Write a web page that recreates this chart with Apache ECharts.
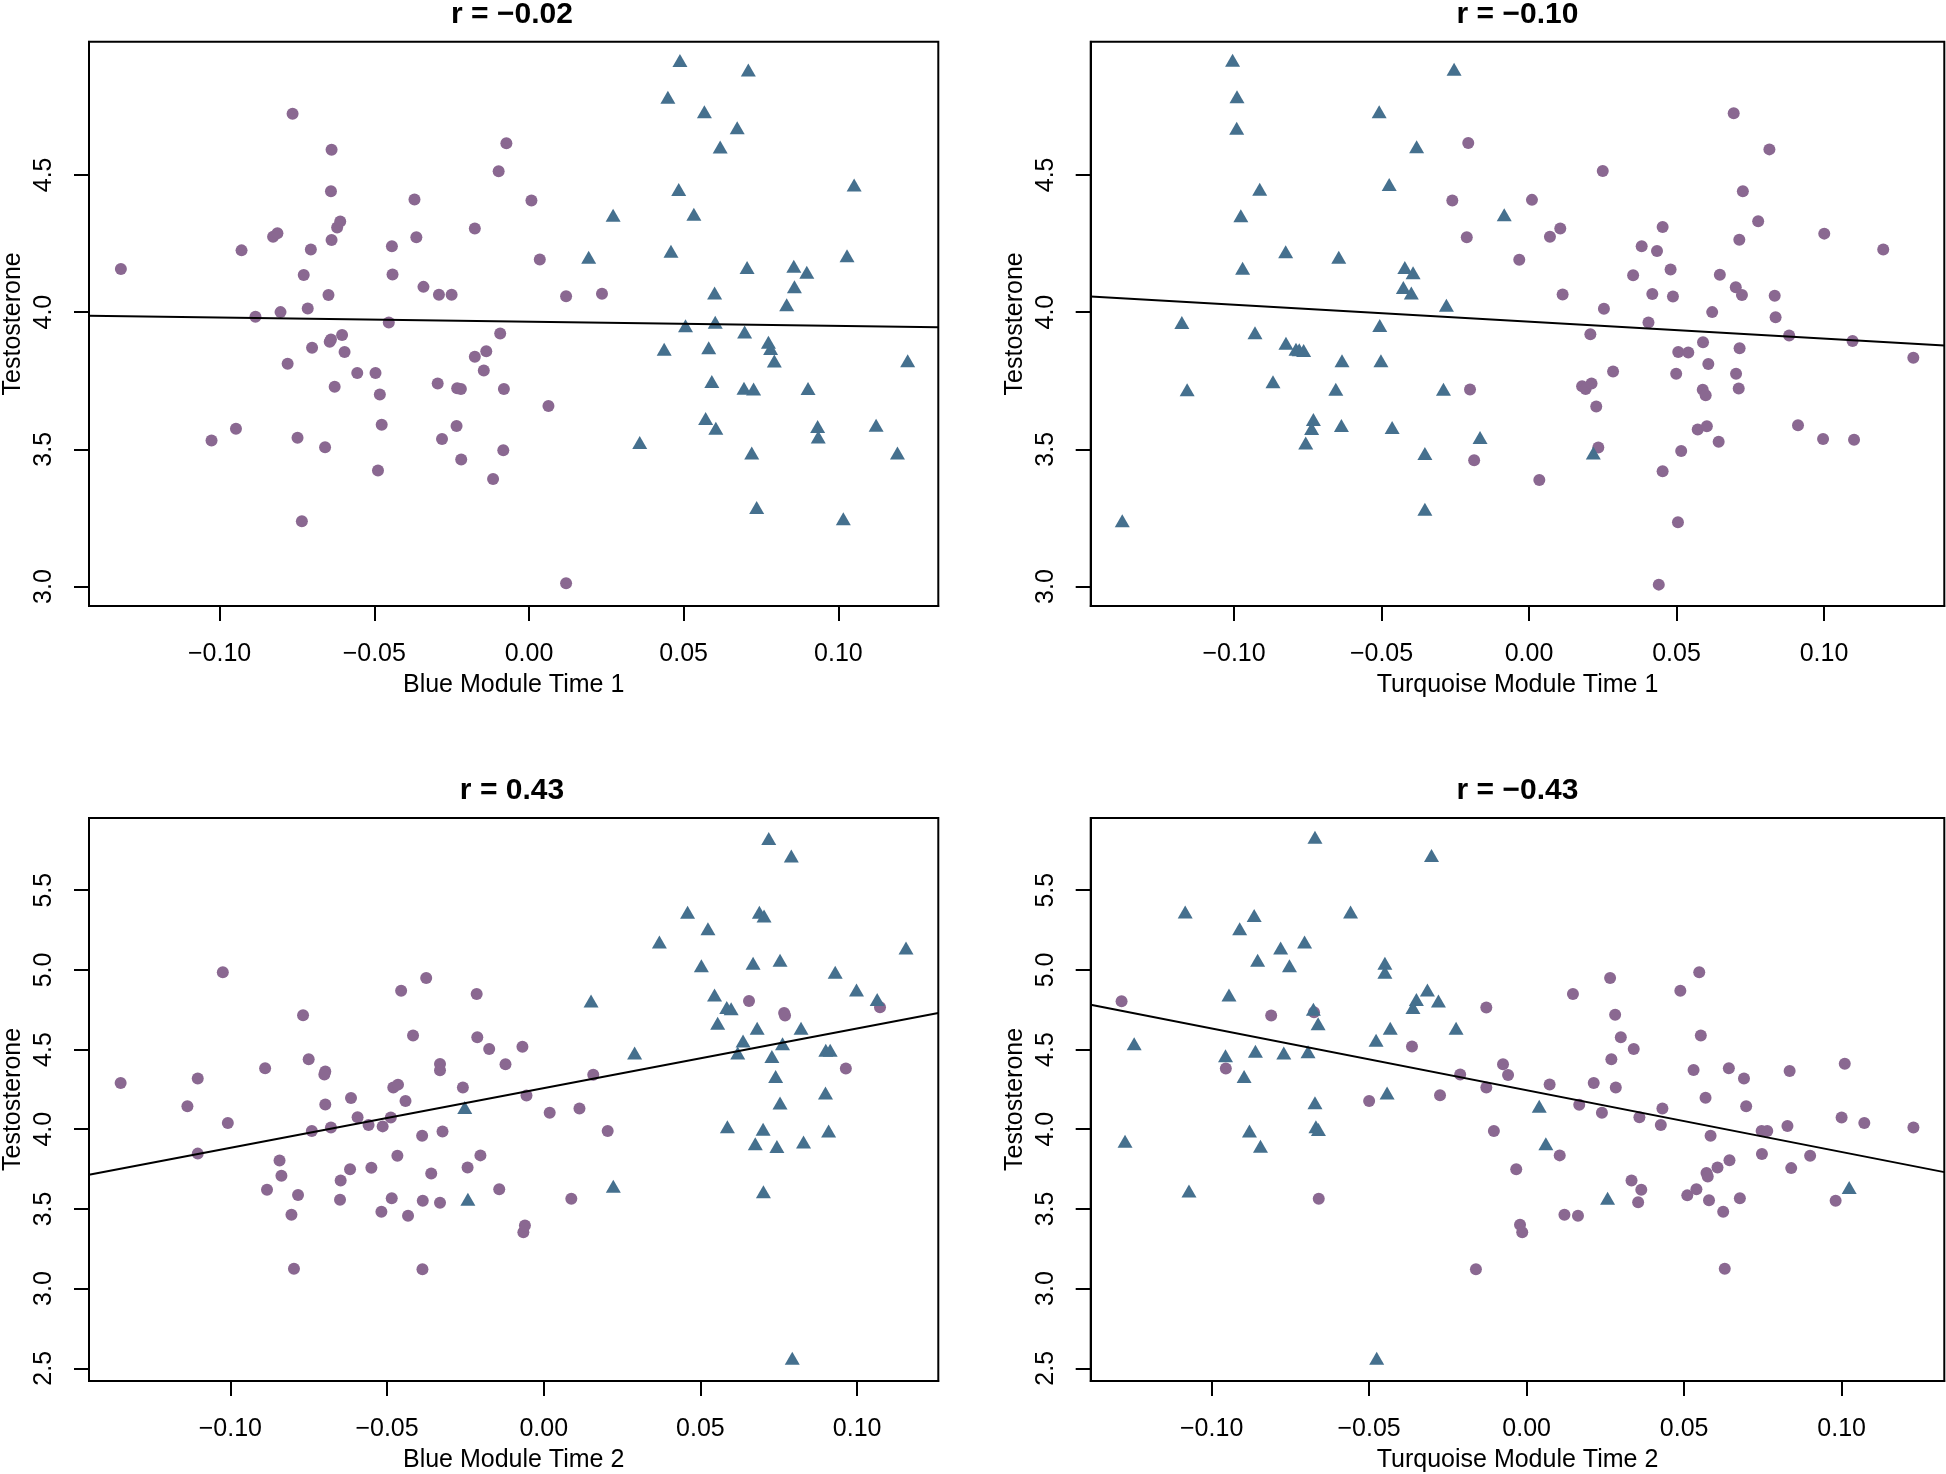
<!DOCTYPE html>
<html lang="en">
<head>
<meta charset="UTF-8">
<title>Testosterone vs module eigengenes</title>
<script src="https://cdn.jsdelivr.net/npm/echarts@6/dist/echarts.min.js"></script>
<style>
	html, body { margin: 0; padding: 0; background: #fff; }
	#chart { width: 1946px; height: 1474px; }
</style>
</head>
<body>
<div id="chart"></div>
<script>
// tick positions
var xTicks = [-0.10, -0.05, 0.00, 0.05, 0.10];
var yTicksTime1 = [3.0, 3.5, 4.0, 4.5];
var yTicksTime2 = [2.5, 3.0, 3.5, 4.0, 4.5, 5.0, 5.5];

var titles = ['r = \u22120.02', 'r = \u22120.10', 'r = 0.43', 'r = \u22120.43'];
var xNames = ['Blue Module Time 1', 'Turquoise Module Time 1', 'Blue Module Time 2', 'Turquoise Module Time 2'];
var yName = 'Testosterone';

// Blue module, time 1
var blueT1Circles = [[-0.1319,4.157],[-0.1026,3.532],[-0.0947,3.575],[-0.0929,4.225],[-0.0884,3.983],[-0.0827,4.275],[-0.0813,4.287],[-0.0803,4.0],[-0.078,3.812],[-0.0764,4.723],[-0.0748,3.542],[-0.0734,3.238],[-0.0728,4.135],[-0.0715,4.013],[-0.0705,4.228],[-0.0701,3.87],[-0.0659,3.508],[-0.0648,4.062],[-0.0638,4.592],[-0.064,4.44],[-0.0638,4.263],[-0.0644,3.892],[-0.064,3.9],[-0.0628,3.728],[-0.062,4.308],[-0.061,4.33],[-0.0604,3.917],[-0.0596,3.855],[-0.0555,3.778],[-0.0496,3.778],[-0.0488,3.423],[-0.0482,3.7],[-0.0476,3.59],[-0.0453,3.962],[-0.0443,4.24],[-0.0441,4.137],[-0.037,4.41],[-0.0364,4.273],[-0.0341,4.092],[-0.0295,3.74],[-0.0291,4.063],[-0.0281,3.538],[-0.025,4.063],[-0.0234,3.585],[-0.0232,3.723],[-0.022,3.72],[-0.0219,3.463],[-0.0175,4.305],[-0.0175,3.837],[-0.0146,3.787],[-0.0138,3.857],[-0.0116,3.392],[-0.0098,4.513],[-0.0093,3.922],[-0.0083,3.497],[-0.0081,3.72],[-0.0073,4.615],[0.0008,4.407],[0.0035,4.192],[0.0063,3.658],[0.012,4.058],[0.012,3.012],[0.0236,4.067]];
var blueT1Triangles = [[0.0193,4.2],[0.0272,4.353],[0.0358,3.525],[0.0437,3.865],[0.0449,4.783],[0.0459,4.222],[0.0484,4.447],[0.0488,4.917],[0.0506,3.95],[0.0533,4.357],[0.0567,4.73],[0.0571,3.612],[0.0581,3.87],[0.0591,3.747],[0.06,4.07],[0.0602,3.963],[0.0604,3.577],[0.0618,4.602],[0.0673,4.672],[0.0697,3.928],[0.0695,3.723],[0.0705,4.163],[0.0709,4.882],[0.072,3.487],[0.0726,3.72],[0.0736,3.288],[0.0774,3.89],[0.0781,3.867],[0.0793,3.822],[0.0833,4.027],[0.0856,4.167],[0.0858,4.092],[0.0898,4.145],[0.0902,3.722],[0.0933,3.583],[0.0935,3.545],[0.1016,3.247],[0.1028,4.205],[0.1051,4.463],[0.1122,3.588],[0.1191,3.487],[0.1224,3.823]];
var blueT1Fit = [[-0.1422,3.987],[0.1323,3.945]];

// Turquoise module, time 1
var turqT1Circles = [[-0.0206,4.616],[-0.026,4.407],[-0.0211,4.273],[-0.02,3.718],[-0.0186,3.46],[0.0694,4.725],[0.0815,4.593],[0.025,4.514],[0.001,4.409],[0.0725,4.44],[0.0777,4.331],[0.0106,4.305],[0.0071,4.275],[0.0453,4.31],[0.1001,4.286],[0.0713,4.264],[0.0382,4.24],[0.0434,4.223],[0.1201,4.228],[-0.0033,4.191],[0.048,4.155],[0.0353,4.134],[0.0647,4.136],[0.0701,4.091],[0.0722,4.062],[0.0114,4.064],[0.0418,4.066],[0.0488,4.057],[0.0833,4.06],[0.0254,4.012],[0.0621,4.0],[0.0836,3.981],[0.0405,3.962],[0.0208,3.919],[0.0882,3.915],[0.1097,3.895],[0.059,3.89],[0.0714,3.868],[0.1303,3.834],[0.0506,3.855],[0.054,3.853],[0.0608,3.811],[0.0285,3.784],[0.0499,3.775],[0.0702,3.775],[0.018,3.73],[0.0192,3.72],[0.0212,3.74],[0.0589,3.717],[0.0599,3.697],[0.0711,3.722],[0.0228,3.656],[0.0912,3.588],[0.0572,3.572],[0.0603,3.584],[0.0997,3.538],[0.1102,3.535],[0.0643,3.528],[0.0235,3.507],[0.0516,3.494],[0.0035,3.388],[0.0453,3.42],[0.0505,3.234],[0.044,3.007]];
var turqT1Triangles = [[-0.1005,4.918],[-0.0254,4.885],[-0.099,4.785],[-0.0508,4.73],[-0.0991,4.67],[-0.0381,4.603],[-0.0913,4.448],[-0.0474,4.465],[-0.0977,4.351],[-0.0084,4.355],[-0.0825,4.22],[-0.0645,4.2],[-0.0971,4.16],[-0.0421,4.163],[-0.0393,4.143],[-0.0426,4.09],[-0.0399,4.07],[-0.028,4.025],[-0.1177,3.962],[-0.0506,3.951],[-0.0929,3.925],[-0.0824,3.887],[-0.079,3.865],[-0.0779,3.863],[-0.0764,3.86],[-0.0634,3.823],[-0.0502,3.823],[-0.1159,3.717],[-0.0868,3.746],[-0.0655,3.719],[-0.029,3.719],[-0.0731,3.609],[-0.0737,3.576],[-0.0757,3.523],[-0.0636,3.587],[-0.0464,3.58],[-0.0353,3.485],[-0.0166,3.543],[-0.0353,3.282],[-0.1379,3.24],[0.0218,3.487]];
var turqT1Fit = [[-0.1486,4.057],[0.1408,3.878]];

// Blue module, time 2
var blueT2Circles = [[-0.135,4.29],[-0.1024,4.985],[-0.1104,4.319],[-0.1137,4.144],[-0.1008,4.039],[-0.1104,3.847],[-0.0889,4.383],[-0.0768,4.716],[-0.075,4.44],[-0.0697,4.363],[-0.07,4.344],[-0.0697,4.155],[-0.0615,4.196],[-0.0594,4.075],[-0.074,3.989],[-0.0679,4.011],[-0.0559,4.027],[-0.0514,4.018],[-0.0488,4.073],[-0.048,4.262],[-0.0465,4.28],[-0.0455,4.869],[-0.0375,4.949],[-0.0417,4.589],[-0.0441,4.178],[-0.0331,4.41],[-0.0331,4.37],[-0.0214,4.849],[-0.0212,4.577],[-0.0174,4.504],[-0.0122,4.408],[-0.0068,4.518],[-0.0258,4.262],[-0.0388,3.959],[-0.0323,3.986],[-0.0467,3.833],[-0.0843,3.804],[-0.0837,3.708],[-0.0883,3.621],[-0.0784,3.587],[-0.0805,3.464],[-0.0797,3.124],[-0.0648,3.678],[-0.065,3.557],[-0.0618,3.749],[-0.055,3.758],[-0.0485,3.567],[-0.0518,3.482],[-0.0433,3.457],[-0.0386,3.551],[-0.0359,3.722],[-0.0331,3.539],[-0.0243,3.76],[-0.0202,3.836],[-0.0142,3.624],[-0.0387,3.122],[-0.0065,3.354],[-0.006,3.396],[-0.0055,4.212],[0.0019,4.103],[0.0114,4.13],[0.0204,3.989],[0.0088,3.564],[0.0158,4.342],[0.0655,4.805],[0.0767,4.73],[0.077,4.714],[0.0964,4.381],[0.1073,4.766]];
var blueT2Triangles = [[-0.0252,4.137],[-0.0242,3.56],[0.0718,5.825],[0.079,5.715],[0.0459,5.362],[0.0688,5.362],[0.0703,5.339],[0.0524,5.259],[0.0369,5.175],[0.1156,5.138],[0.0503,5.026],[0.0668,5.042],[0.0754,5.061],[0.093,4.985],[0.0998,4.874],[0.0151,4.805],[0.1064,4.814],[0.0545,4.842],[0.0584,4.764],[0.0598,4.757],[0.0555,4.666],[0.0681,4.634],[0.0821,4.634],[0.0636,4.554],[0.0762,4.536],[0.09,4.495],[0.0914,4.495],[0.0619,4.479],[0.029,4.479],[0.0728,4.456],[0.074,4.331],[0.0899,4.228],[0.0754,4.164],[0.0586,4.016],[0.07,4.0],[0.0909,3.989],[0.0675,3.909],[0.0744,3.891],[0.0829,3.92],[0.0222,3.642],[0.0701,3.608],[0.0793,2.563]];
var blueT2Fit = [[-0.1451,3.715],[0.1259,4.73]];

// Turquoise module, time 2
var turqT2Circles = [[-0.1286,4.803],[-0.0811,4.714],[-0.0675,4.735],[-0.0955,4.381],[-0.0364,4.52],[-0.05,4.178],[-0.066,3.564],[-0.0128,4.764],[-0.0075,4.408],[-0.0059,4.34],[-0.0211,4.344],[-0.0128,4.262],[-0.0275,4.214],[-0.0104,3.989],[-0.0033,3.749],[-0.0021,3.4],[-0.0014,3.354],[-0.0161,3.122],[0.0548,4.985],[0.0265,4.949],[0.0147,4.849],[0.0488,4.869],[0.0281,4.719],[0.0553,4.589],[0.0299,4.577],[0.034,4.504],[0.0269,4.44],[0.101,4.411],[0.053,4.372],[0.0642,4.383],[0.069,4.319],[0.0835,4.365],[0.0073,4.281],[0.0213,4.29],[0.0283,4.262],[0.0568,4.198],[0.0167,4.153],[0.0239,4.103],[0.0431,4.13],[0.0697,4.144],[0.0358,4.075],[0.0426,4.027],[0.0584,3.959],[0.0746,3.989],[0.0764,3.989],[0.0828,4.021],[0.1,4.073],[0.1072,4.039],[0.1228,4.011],[0.0105,3.836],[0.0747,3.845],[0.09,3.833],[0.0644,3.806],[0.0606,3.76],[0.0571,3.726],[0.0575,3.703],[0.084,3.756],[0.0333,3.678],[0.0364,3.621],[0.0354,3.542],[0.051,3.585],[0.0539,3.624],[0.0579,3.555],[0.0677,3.567],[0.0624,3.482],[0.0981,3.551],[0.012,3.464],[0.0163,3.457],[0.0629,3.124]];
var turqT2Triangles = [[-0.0672,5.832],[-0.0302,5.718],[-0.1084,5.364],[-0.0865,5.341],[-0.0559,5.364],[-0.0911,5.259],[-0.0705,5.175],[-0.0781,5.138],[-0.0854,5.061],[-0.0753,5.026],[-0.045,5.042],[-0.045,4.985],[-0.0315,4.874],[-0.0945,4.842],[-0.035,4.814],[-0.0361,4.764],[-0.028,4.805],[-0.0677,4.753],[-0.0662,4.662],[-0.0433,4.634],[-0.0224,4.634],[-0.1246,4.536],[-0.0478,4.559],[-0.0956,4.461],[-0.0861,4.49],[-0.0771,4.479],[-0.0694,4.486],[-0.0897,4.331],[-0.0443,4.228],[-0.0672,4.167],[-0.088,3.989],[-0.0669,4.016],[-0.0661,3.998],[-0.1275,3.925],[-0.0845,3.893],[-0.1072,3.612],[-0.0476,2.563],[0.004,4.144],[0.0061,3.909],[0.0257,3.567],[0.1024,3.635]];
var turqT2Fit = [[-0.1384,4.782],[0.1326,3.731]];

var FONT = '"Liberation Sans", Arial, Helvetica, sans-serif';
var PURPLE = '#8a6891';
var BLUE = '#45708e';

// one entry per panel: data + axis range + place on the page
var panels = [
	{circles: blueT1Circles, triangles: blueT1Triangles, fit: blueT1Fit, xMin: -0.1422, xMax: 0.1323, yMin: 2.9295, yMax: 4.985, yTicks: yTicksTime1, left: 85.7, top: 41.8, width: 852.6, height: 564.1},
	{circles: turqT1Circles, triangles: turqT1Triangles, fit: turqT1Fit, xMin: -0.1486, xMax: 0.1408, yMin: 2.9295, yMax: 4.985, yTicks: yTicksTime1, left: 1090.7, top: 41.8, width: 853.6, height: 564.1},
	{circles: blueT2Circles, triangles: blueT2Triangles, fit: blueT2Fit, xMin: -0.1451, xMax: 0.1259, yMin: 2.42, yMax: 5.954, yTicks: yTicksTime2, left: 85.7, top: 817.9, width: 852.6, height: 565.8},
	{circles: turqT2Circles, triangles: turqT2Triangles, fit: turqT2Fit, xMin: -0.1384, xMax: 0.1326, yMin: 2.42, yMax: 5.954, yTicks: yTicksTime2, left: 1090.7, top: 817.9, width: 853.6, height: 565.8}
];

function fmtSigned(v, d) {
	var s = Math.abs(v).toFixed(d);
	return (v < -1e-9 ? '\u2212' : '') + s;
}

var tickStyle = {show: true, length: 15, lineStyle: {color: '#000', width: 2}};

var option = {
	animation: false,
	backgroundColor: '#fff',
	title: panels.map(function (p, i) {
		return {
			text: titles[i],
			left: p.left + p.width / 2,
			top: p.top - 42,
			textAlign: 'center',
			padding: 0,
			textStyle: {fontFamily: FONT, fontSize: 30, fontWeight: 'bold', color: '#000'}
		};
	}),
	grid: panels.map(function (p) {
		return {left: p.left, top: p.top, width: p.width, height: p.height,
			show: true, borderColor: '#000', borderWidth: 2, backgroundColor: 'transparent'};
	}),
	xAxis: panels.map(function (p, i) {
		return {
			gridIndex: i, type: 'value', min: p.xMin, max: p.xMax,
			name: xNames[i], nameLocation: 'middle', nameGap: 67,
			nameTextStyle: {fontFamily: FONT, fontSize: 25, color: '#000'},
			axisLine: {show: true, onZero: false, lineStyle: {color: '#000', width: 2}},
			splitLine: {show: false},
			axisTick: Object.assign({customValues: xTicks}, tickStyle),
			axisLabel: {customValues: xTicks, margin: 36, fontFamily: FONT, fontSize: 25, color: '#000',
				formatter: function (v) { return fmtSigned(v, 2); }}
		};
	}),
	yAxis: panels.map(function (p, i) {
		return {
			gridIndex: i, type: 'value', min: p.yMin, max: p.yMax,
			name: yName, nameLocation: 'middle', nameGap: 63,
			nameTextStyle: {fontFamily: FONT, fontSize: 25, color: '#000'},
			axisLine: {show: true, onZero: false, lineStyle: {color: '#000', width: 2}},
			splitLine: {show: false},
			axisTick: Object.assign({customValues: p.yTicks}, tickStyle),
			axisLabel: {customValues: p.yTicks, rotate: 90, margin: 32, fontFamily: FONT, fontSize: 25, color: '#000',
				formatter: function (v) { return v.toFixed(1); }}
		};
	}),
	series: []
};

panels.forEach(function (p, i) {
	option.series.push({
		type: 'scatter', xAxisIndex: i, yAxisIndex: i, data: p.circles,
		symbol: 'circle', symbolSize: 12, itemStyle: {color: PURPLE, opacity: 1}, z: 2
	});
	option.series.push({
		type: 'scatter', xAxisIndex: i, yAxisIndex: i, data: p.triangles,
		symbol: 'triangle', symbolSize: [15, 13], itemStyle: {color: BLUE, opacity: 1}, z: 2
	});
	option.series.push({
		type: 'line', xAxisIndex: i, yAxisIndex: i, data: p.fit,
		symbol: 'none', silent: true, lineStyle: {color: '#000', width: 2}, z: 3
	});
});

var myChart = echarts.init(document.getElementById('chart'));
myChart.setOption(option);
</script>
</body>
</html>
